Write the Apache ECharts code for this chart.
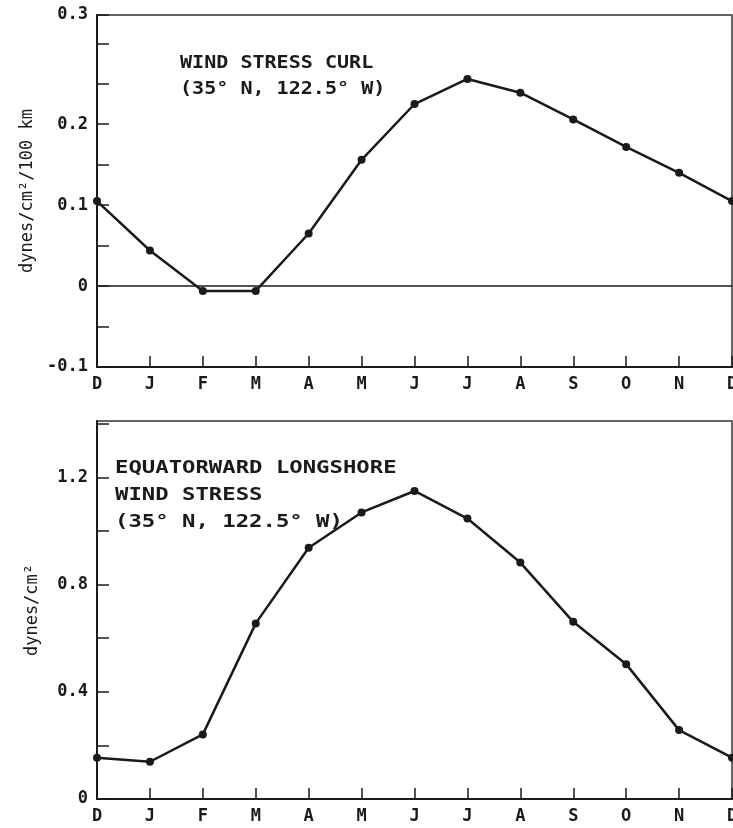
<!DOCTYPE html>
<html>
<head>
<meta charset="utf-8">
<script src="https://cdn.jsdelivr.net/npm/echarts@6/dist/echarts.min.js"></script>
<style>
  html, body { margin: 0; padding: 0; background: #fff; }
  #chart { width: 733px; height: 828px; }
</style>
</head>
<body>
<div id="chart"></div>
<script>
// Months from December through the following December
const months = ['D', 'J', 'F', 'M', 'A', 'M', 'J', 'J', 'A', 'S', 'O', 'N', 'D'];

// Wind stress curl, dynes/cm^2/100 km
const curlValues = [0.105, 0.044, -0.006, -0.006, 0.065, 0.156, 0.225, 0.256, 0.239, 0.206, 0.172, 0.140, 0.105];

// Equatorward longshore wind stress, dynes/cm^2
const stressValues = [0.154, 0.139, 0.241, 0.655, 0.937, 1.069, 1.149, 1.046, 0.882, 0.661, 0.503, 0.257, 0.154];

// Labelled ticks on each value axis
const curlTickLabels = ['-0.1', '0', '0.1', '0.2'];
const curlTopLabel = '0.3';
const stressTickLabels = ['0', '0.4', '0.8', '1.2'];

const INK = '#1a1a1a';
const MONO = '"DejaVu Sans Mono", "Liberation Mono", monospace';

const chart = echarts.init(document.getElementById('chart'), null, { renderer: 'canvas' });

function xAxisFor(gridIndex) {
  return {
    type: 'category',
    gridIndex: gridIndex,
    data: months,
    boundaryGap: false,
    axisLine: { show: true, onZero: false, lineStyle: { color: INK, width: 2 } },
    axisTick: { show: true, inside: true, length: 11, lineStyle: { color: INK, width: 1.5 } },
    axisLabel: { color: INK, fontFamily: MONO, fontSize: 17, fontWeight: 'bold', margin: 9 },
    splitLine: { show: false }
  };
}

function lineSeries(values, xi, yi, extra) {
  return Object.assign({
    type: 'line',
    xAxisIndex: xi,
    yAxisIndex: yi,
    data: values,
    symbol: 'circle',
    symbolSize: 8,
    itemStyle: { color: INK },
    lineStyle: { color: INK, width: 2.5 },
    z: 5
  }, extra || {});
}

const key = v => String(Math.round(v * 100) / 100);

const option = {
  animation: false,
  backgroundColor: '#fff',
  grid: [
    { left: 97, right: 1, top: 15, height: 352, show: true, borderColor: '#333', borderWidth: 1.5, outerBoundsMode: 'none', containLabel: false },
    { left: 97, right: 1, top: 421, height: 378, show: true, borderColor: '#333', borderWidth: 1.5, outerBoundsMode: 'none', containLabel: false }
  ],
  xAxis: [xAxisFor(0), xAxisFor(1)],
  yAxis: [
    {
      type: 'value',
      gridIndex: 0,
      min: -0.1,
      max: 0.335,
      interval: 0.05,
      name: 'dynes/cm²/100 km',
      nameLocation: 'middle',
      nameGap: 56,
      nameTextStyle: { color: INK, fontFamily: MONO, fontSize: 17 },
      axisLine: { show: true, lineStyle: { color: INK, width: 2 } },
      axisTick: { show: true, inside: true, length: 12, lineStyle: { color: INK, width: 1.5 } },
      axisLabel: {
        color: INK, fontFamily: MONO, fontSize: 17, fontWeight: 'bold', margin: 9,
        showMaxLabel: true, showMinLabel: true,
        formatter: function (v) {
          if (v > 0.32) return curlTopLabel;
          const k = key(v);
          return curlTickLabels.indexOf(k) >= 0 ? k : '';
        }
      },
      splitLine: { show: false }
    },
    {
      type: 'value',
      gridIndex: 1,
      min: 0,
      max: 1.41,
      interval: 0.2,
      name: 'dynes/cm²',
      nameLocation: 'middle',
      nameGap: 56,
      nameTextStyle: { color: INK, fontFamily: MONO, fontSize: 17 },
      axisLine: { show: true, lineStyle: { color: INK, width: 2 } },
      axisTick: { show: true, inside: true, length: 12, lineStyle: { color: INK, width: 1.5 } },
      axisLabel: {
        color: INK, fontFamily: MONO, fontSize: 17, fontWeight: 'bold', margin: 9,
        showMaxLabel: false,
        formatter: function (v) {
          const k = key(v);
          return stressTickLabels.indexOf(k) >= 0 ? k : '';
        }
      },
      splitLine: { show: false }
    }
  ],
  series: [
    lineSeries(curlValues, 0, 0, {
      markLine: {
        silent: true,
        symbol: 'none',
        label: { show: false },
        lineStyle: { color: INK, width: 1.5, type: 'solid' },
        data: [{ yAxis: 0 }]
      }
    }),
    lineSeries(stressValues, 1, 1)
  ],
  graphic: [
    {
      type: 'text', left: 180, top: 51, scaleX: 1.18,
      style: { text: 'WIND STRESS CURL\n(35° N, 122.5° W)', fill: INK, font: 'bold 17px ' + MONO, lineHeight: 26 }
    },
    {
      type: 'text', left: 115, top: 455, scaleX: 1.31,
      style: { text: 'EQUATORWARD LONGSHORE\nWIND STRESS\n(35° N, 122.5° W)', fill: INK, font: 'bold 17px ' + MONO, lineHeight: 27 }
    }
  ]
};

chart.setOption(option);
</script>
</body>
</html>
